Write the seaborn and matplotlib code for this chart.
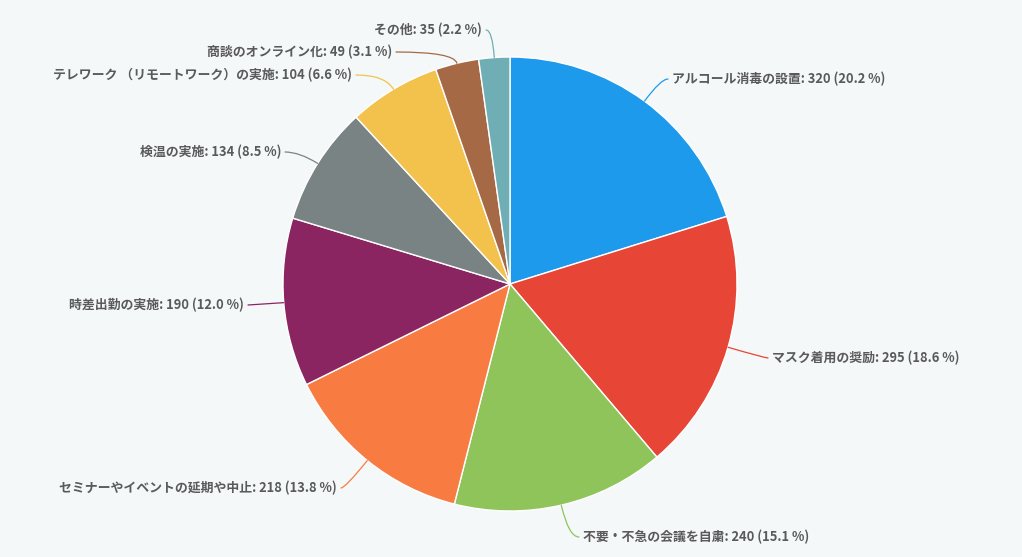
import numpy as np
import matplotlib
matplotlib.use("Agg")
import matplotlib.pyplot as plt
import seaborn as sns

categories = ["アルコール消毒の設置", "マスク着用の奨励", "不要・不急の会議を自粛",
              "セミナーやイベントの延期や中止", "時差出勤の実施", "検温の実施",
              "テレワーク （リモートワーク）の実施", "商談のオンライン化", "その他"]
values = [320, 295, 240, 218, 190, 134, 104, 49, 35]
percents = [20.2, 18.6, 15.1, 13.8, 12.0, 8.5, 6.6, 3.1, 2.2]
colors = ["#1E9AEC", "#E74536", "#8FC45B", "#F87C42", "#8A2561",
          "#7A8383", "#F3C24C", "#A56945", "#6FAEB5"]

sns.set_theme(style="white")
plt.rcParams['font.family'] = ['Noto Sans CJK JP', 'DejaVu Sans']

W, H = 1022, 557
CX, CY, R = 510, 284, 227
BG = "#F5F8F9"

fig = plt.figure(figsize=(W / 100, H / 100), dpi=100, facecolor=BG)
ax = fig.add_axes([0, 0, 1, 1])
ax.set_facecolor(BG)

pal = sns.color_palette(colors)
wedges, _ = ax.pie(values, colors=pal, startangle=90, counterclock=False,
                   radius=1.0, center=(0, 0),
                   wedgeprops=dict(edgecolor="white", linewidth=1.0))
ax.set_xlim(-CX / R, (W - CX) / R)
ax.set_ylim(-(H - CY) / R, CY / R)
ax.set_aspect("equal")
ax.axis("off")


def px(x, y):
    return ((x - CX) / R, (CY - y) / R)

# label text anchor positions in pixels (layout) and alignment
label_layout = [
    (672, 79, "left"),
    (772, 358, "left"),
    (583, 537, "left"),
    (337, 488, "right"),
    (244, 305, "right"),
    (281, 152, "right"),
    (352, 75, "right"),
    (392, 52, "right"),
    (482, 30, "right"),
]

for w, cat, v, p, c, (lx, ly, ha) in zip(wedges, categories, values, percents, colors, label_layout):
    mid_deg = (w.theta1 + w.theta2) / 2
    mid = np.deg2rad(mid_deg)
    ex, ey = np.cos(mid), np.sin(mid)
    tx, ty = px(lx, ly)
    gap = 4 / R
    lx_end = tx - gap if ha == "left" else tx + gap
    if abs(np.sin(mid)) < 0.25:
        cs = "arc3,rad=0"
    else:
        angA = 0 if ha == "left" else 180
        cs = f"angle3,angleA={angA},angleB={mid_deg:.2f}"
    ax.annotate("", xy=(ex, ey), xytext=(lx_end, ty),
                arrowprops=dict(arrowstyle="-", color=c, lw=0.9,
                                shrinkA=0, shrinkB=0, connectionstyle=cs))
    ax.text(tx, ty, f"{cat}: {v} ({p} %)", ha=ha, va="center",
            fontsize=9.3, fontweight="bold", color="#5A5A5A")

fig.savefig("out.png", dpi=100, facecolor=BG)
